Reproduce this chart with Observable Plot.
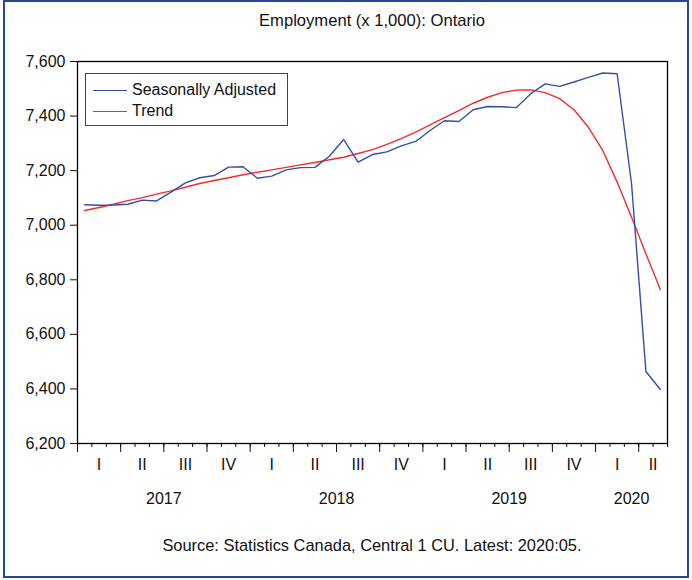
<!DOCTYPE html>
<html>
<head>
<meta charset="utf-8">
<script src="https://cdn.jsdelivr.net/npm/d3@7"></script>
<script src="https://cdn.jsdelivr.net/npm/@observablehq/plot@0.6"></script>
<style>
  body { margin: 0; background: #fff; font-family: "Liberation Sans", Arial, sans-serif; }
  #wrap { position: relative; width: 692px; height: 580px; overflow: hidden; }
  #border { position: absolute; left: 3px; top: 0px; width: 682px; height: 574px; border: 2px solid #234a8c; }
  #title { position: absolute; left: 77px; width: 590px; top: 11px; text-align: center; font-size: 16.6px; color: #111; }
  #caption { position: absolute; left: 77px; width: 590px; top: 536px; text-align: center; font-size: 16.4px; color: #111; }
  #legend { position: absolute; left: 85px; top: 73px; width: 201px; height: 51px; border: 1px solid #444; background: #fff; }
  .row { position: absolute; left: 0; height: 20px; font-size: 16px; color: #111; }
  .sw { position: absolute; left: 7px; width: 34px; top: 10px; height: 0; border-top: 1.5px solid; }
  .lab { position: absolute; left: 46px; top: 0; white-space: nowrap; line-height: 20px; }
  #chart { position: absolute; left: 0; top: 0; }
</style>
</head>
<body>
<div id="wrap">
  <div id="chart"></div>
  <div id="title">Employment (x 1,000): Ontario</div>
  <div id="legend"></div>
  <div id="caption">Source: Statistics Canada, Central 1 CU. Latest: 2020:05.</div>
  <div id="border"></div>
</div>
<script>
// Months Jan 2017 .. May 2020
const months = d3.utcMonths(new Date(Date.UTC(2017, 0, 1)), new Date(Date.UTC(2020, 5, 1))).map(d3.utcFormat("%Y-%m"));

const seasonallyAdjusted = [
  7075, 7073, 7074, 7077, 7092, 7089, 7121, 7155, 7174, 7182, 7213, 7214,
  7172, 7180, 7203, 7211, 7212, 7253, 7314, 7231, 7259, 7269, 7291, 7307,
  7347, 7383, 7380, 7423, 7435, 7434, 7431, 7482, 7518, 7509, 7525, 7542,
  7558, 7555, 7153, 6464, 6398
];

const trend = [
  7054, 7065, 7077, 7090, 7101, 7114, 7126, 7139, 7153, 7164, 7174, 7185,
  7194, 7203, 7212, 7221, 7230, 7240, 7249, 7263, 7277, 7296, 7317, 7341,
  7368, 7394, 7420, 7447, 7469, 7486, 7495, 7496, 7486, 7464, 7423, 7359,
  7274, 7158, 7029, 6895, 6764
];

const yTicks = [6200, 6400, 6600, 6800, 7000, 7200, 7400, 7600];
const quarterLabels = ["I", "II", "III", "IV"];
const years = ["2017", "2018", "2019", "2020"];

const seriesNames = ["Seasonally Adjusted", "Trend"];
const seriesColors = ["#3350a6", "#f52a2a"];

const n = months.length;
const rows = months.map((m, i) => ({i, month: m, sa: seasonallyAdjusted[i], trend: trend[i]}));

// quarter and year label positions (centred on visible span)
const quarters = [];
for (let q = 0; q * 3 < n; q++) {
  const a = q * 3, b = Math.min(q * 3 + 3, n);
  quarters.push({x: (a + b) / 2, label: quarterLabels[q % 4]});
}
const yearRows = years.map((y, k) => {
  const a = k * 12, b = Math.min(k * 12 + 12, n);
  return {x: (a + b) / 2, label: y};
});

const chart = Plot.plot({
  width: 692,
  height: 580,
  marginLeft: 77,
  marginRight: 25,
  marginTop: 61,
  marginBottom: 137,
  style: {fontFamily: "Liberation Sans, Arial, sans-serif", fontSize: "16px", color: "#111", background: "transparent"},
  x: {domain: [0, n], axis: null},
  y: {domain: [6200, 7600], axis: null},
  marks: [
    Plot.axisY({ticks: yTicks, tickSize: 7, tickPadding: 5, tickFormat: d3.format(","), label: null, fontSize: 16}),
    Plot.axisX({ticks: d3.range(0, n + 1), tickSize: 4, tickFormat: () => "", label: null}),
    Plot.axisX({ticks: d3.range(0, n + 1, 3), tickSize: 9, tickFormat: () => "", label: null}),
    Plot.text(quarters, {x: "x", text: "label", frameAnchor: "bottom", dy: 26, fontSize: 16}),
    Plot.text(yearRows, {x: "x", text: "label", frameAnchor: "bottom", dy: 60, fontSize: 16}),
    Plot.line(rows, {x: d => d.i + 0.5, y: "trend", stroke: seriesColors[1], strokeWidth: 1.4}),
    Plot.line(rows, {x: d => d.i + 0.5, y: "sa", stroke: seriesColors[0], strokeWidth: 1.4}),
    Plot.frame({stroke: "#000", strokeWidth: 1.3})
  ]
});
document.getElementById("chart").appendChild(chart);

const legend = document.getElementById("legend");
seriesNames.forEach((name, k) => {
  const row = document.createElement("div");
  row.className = "row";
  row.style.top = (6 + k * 21) + "px";
  row.style.width = "200px";
  row.innerHTML = `<div class="sw" style="border-color:${seriesColors[k]}"></div><div class="lab">${name}</div>`;
  legend.appendChild(row);
});
</script>
</body>
</html>
